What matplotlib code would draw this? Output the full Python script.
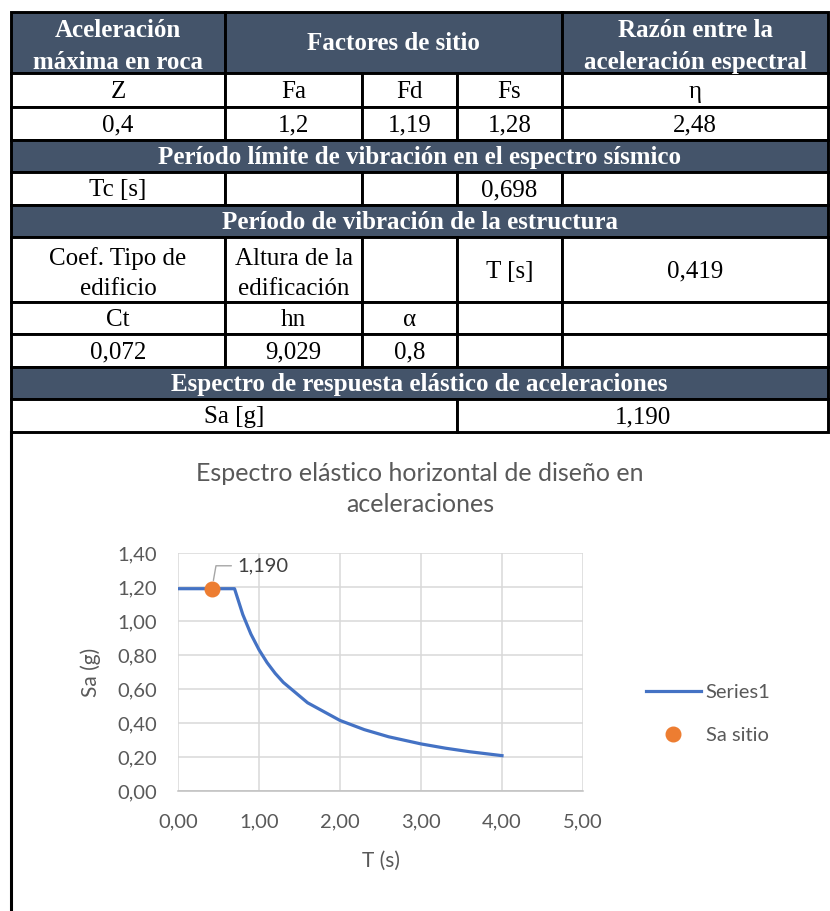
import matplotlib.pyplot as plt
from matplotlib.patches import Rectangle
from matplotlib.ticker import FuncFormatter, MultipleLocator

# valores de la tabla
z_roca = '0,4'
fa, fd, fs = '1,2', '1,19', '1,28'
eta = '2,48'
tc = '0,698'
ct, hn, alfa = '0,072', '9,029', '0,8'
t_est = '0,419'

# espectro elastico (T en s, Sa en g)
T = [0.0, 0.698, 0.8, 0.9, 1.0, 1.1, 1.2, 1.3, 1.6, 2.0, 2.3, 2.6, 3.0, 3.3, 3.6, 4.0]
Sa = [1.190, 1.190, 1.038, 0.923, 0.831, 0.755, 0.692, 0.639, 0.519, 0.415,
      0.361, 0.319, 0.277, 0.252, 0.231, 0.208]
T_sitio = 0.419
Sa_sitio = 1.190

def coma(v, pos=None, dec=2):
    return '{:.{}f}'.format(v, dec).replace('.', ',')

# bordes de columnas y filas de la tabla (px)
xs = [11, 225, 362, 457, 562, 828]
ys = [12, 73, 107, 140, 172, 205, 237, 302, 334, 367, 399, 432]
azul = '#44546A'

filas = [
    ('h', [(1, 'Aceleración\nmáxima en roca'), (3, 'Factores de sitio'),
           (1, 'Razón entre la\naceleración espectral')]),
    ('n', [(1, 'Z'), (1, 'Fa'), (1, 'Fd'), (1, 'Fs'), (1, 'η')]),
    ('n', [(1, z_roca), (1, fa), (1, fd), (1, fs), (1, eta)]),
    ('h', [(5, 'Período límite de vibración en el espectro sísmico')]),
    ('n', [(1, 'Tc [s]'), (1, ''), (1, ''), (1, tc), (1, '')]),
    ('h', [(5, 'Período de vibración de la estructura')]),
    ('n', [(1, 'Coef. Tipo de\nedificio'), (1, 'Altura de la\nedificación'), (1, ''),
           (1, 'T [s]'), (1, t_est)]),
    ('n', [(1, 'Ct'), (1, 'hn'), (1, 'α'), (1, ''), (1, '')]),
    ('n', [(1, ct), (1, hn), (1, alfa), (1, ''), (1, '')]),
    ('h', [(5, 'Espectro de respuesta elástico de aceleraciones')]),
    ('n', [(3, 'Sa [g]'), (2, coma(Sa_sitio, dec=3))]),
]

fig = plt.figure(figsize=(8.3, 9.11), dpi=100)
tab = fig.add_axes([0, 0, 1, 1])
tab.set_xlim(0, 830)
tab.set_ylim(911, 0)
tab.axis('off')

for i, (tipo, celdas) in enumerate(filas):
    y0, y1 = ys[i], ys[i + 1]
    yc = (y0 + y1) / 2
    c = 0
    for span, txt in celdas:
        x0, x1 = xs[c], xs[c + span]
        c += span
        tab.add_patch(Rectangle((x0, y0), x1 - x0, y1 - y0,
                                facecolor=azul if tipo == 'h' else 'white',
                                edgecolor='black', lw=2.1))
        lineas = txt.split('\n')
        sep = 32 if tipo == 'h' else 29.5
        extra = 2.5 if len(lineas) > 1 else 0
        for k, ln in enumerate(lineas):
            yb = yc + 8 + extra + sep * (k - (len(lineas) - 1) / 2)
            tab.text((x0 + x1) / 2, yb, ln, ha='center', va='baseline',
                     family='Liberation Serif', fontsize=18,
                     color='white' if tipo == 'h' else 'black',
                     weight='bold' if tipo == 'h' else 'normal')

# borde izquierdo del area del grafico
tab.plot([11, 11], [432, 911], color='black', lw=2.2)

gris = '#595959'
fig.text(420 / 830, 1 - 489 / 911,
         'Espectro elástico horizontal de diseño en\naceleraciones',
         ha='center', va='center', family='Lato', fontsize=18, color=gris,
         linespacing=1.38)

fs_ax = 14.5
ax = fig.add_axes([178 / 830, 1 - 791 / 911, 405 / 830, 238 / 911])
ax.plot(T, Sa, color='#4472C4', lw=2.3, label='Series1', solid_joinstyle='round')
ax.plot([T_sitio], [Sa_sitio], 'o', color='#ED7D31', ms=10.5, label='Sa sitio',
        zorder=3)
ax.annotate(coma(Sa_sitio, dec=3),
            xy=(T_sitio, Sa_sitio), xytext=(18, 16.5), textcoords='offset points',
            ha='left', va='center', family='Lato', fontsize=fs_ax, color='#404040',
            arrowprops=dict(arrowstyle='-', color='#A6A6A6', lw=1,
                            shrinkA=2, shrinkB=6, relpos=(0, 0.5),
                            connectionstyle='angle,angleA=0,angleB=80,rad=0'))

ax.set_xlim(0, 5)
ax.set_ylim(0, 1.4)
ax.xaxis.set_major_locator(MultipleLocator(1))
ax.yaxis.set_major_locator(MultipleLocator(0.2))
ax.xaxis.set_major_formatter(FuncFormatter(coma))
ax.yaxis.set_major_formatter(FuncFormatter(coma))
ax.grid(True, color='#D9D9D9', lw=1.1)
ax.set_axisbelow(True)
for s in ['top', 'right', 'left']:
    ax.spines[s].set_visible(False)
ax.spines['bottom'].set_color('#BFBFBF')
ax.spines['bottom'].set_linewidth(1.1)
ax.tick_params(length=0, labelsize=fs_ax, labelcolor=gris)
ax.tick_params(axis='x', pad=16)
ax.tick_params(axis='y', pad=15)
for lab in ax.get_xticklabels() + ax.get_yticklabels():
    lab.set_family('Lato')
ax.set_xlabel('T (s)', family='Lato', fontsize=fs_ax + 0.5, color=gris)
ax.set_ylabel('Sa (g)', family='Lato', fontsize=fs_ax + 0.5, color=gris)
ax.xaxis.set_label_coords(0.5, -0.252)
ax.yaxis.set_label_coords(-0.19, 0.5)

ax.legend(loc='center left', bbox_to_anchor=(628 / 830, 1 - 714 / 911),
          bbox_transform=fig.transFigure, frameon=False,
          prop={'family': 'Lato', 'size': fs_ax}, labelcolor=gris,
          handlelength=2.7, handletextpad=0.25, labelspacing=1.3)

fig.savefig('out.png', dpi=100)
